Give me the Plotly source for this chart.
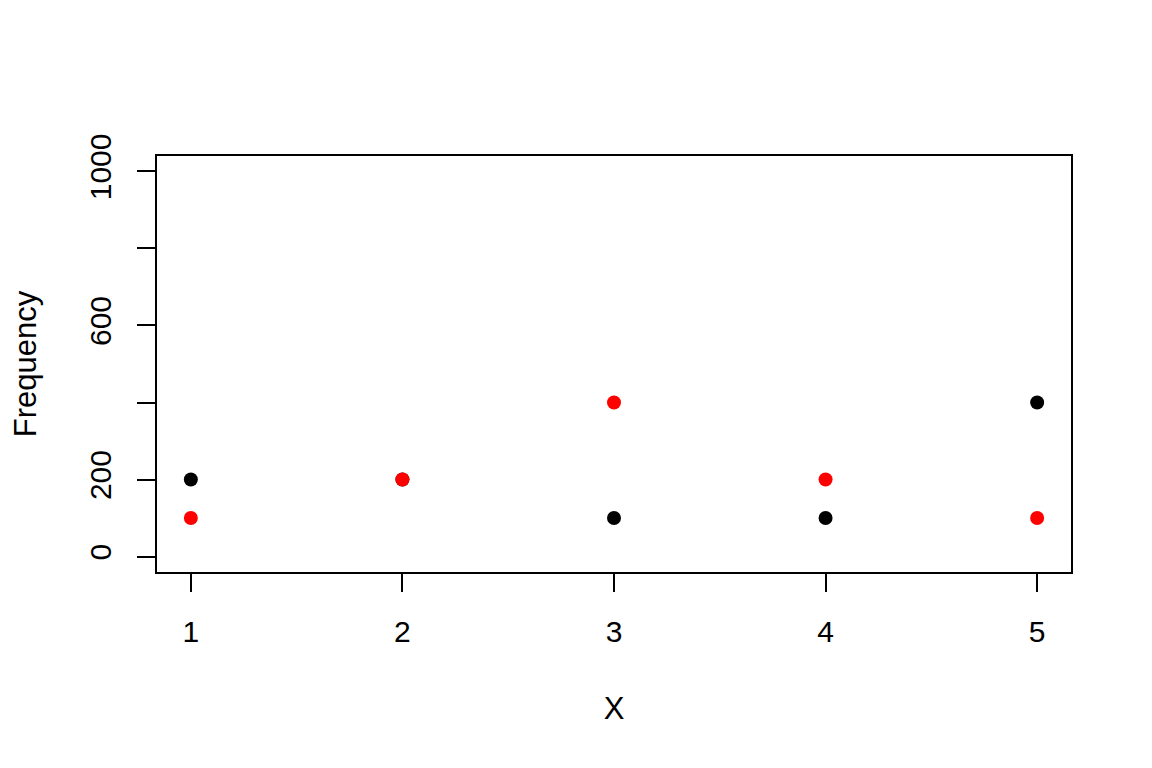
import plotly.graph_objects as go

x_vals = [1, 2, 3, 4, 5]
black_vals = [200, 200, 100, 100, 400]
red_vals = [100, 200, 400, 200, 100]
y_tickvals = [0, 200, 400, 600, 800, 1000]
y_ticktext = ["0", "200", "", "600", "", "1000"]
x_tickvals = [1, 2, 3, 4, 5]

FONT = "Liberation Sans, Arial, sans-serif"

fig = go.Figure()
fig.add_trace(go.Scatter(x=x_vals, y=black_vals, mode="markers",
                         marker=dict(color="black", size=14), showlegend=False))
fig.add_trace(go.Scatter(x=x_vals, y=red_vals, mode="markers",
                         marker=dict(color="red", size=14), showlegend=False))

fig.update_layout(
    width=1152, height=768,
    margin=dict(l=149, r=89, t=148, b=204),
    paper_bgcolor="white", plot_bgcolor="white",
    font=dict(family=FONT, size=30, color="black"),
)
fig.update_xaxes(
    range=[0.84, 5.16], tickvals=x_tickvals, showgrid=False, zeroline=False,
    showline=True, mirror=True, linecolor="black", linewidth=2,
    ticks="outside", ticklen=18, tickwidth=2, tickcolor="black",
    ticklabelstandoff=14,
    title=dict(text="X", standoff=50, font=dict(size=31)),
)
fig.update_yaxes(
    range=[-40, 1040], tickvals=y_tickvals, ticktext=y_ticktext,
    showgrid=False, zeroline=False, tickangle=-90,
    showline=True, mirror=True, linecolor="black", linewidth=2,
    ticks="outside", ticklen=18, tickwidth=2, tickcolor="black",
    ticklabelstandoff=14,
    title=dict(text="Frequency", standoff=40, font=dict(size=31)),
)

fig.write_html("out.html")
